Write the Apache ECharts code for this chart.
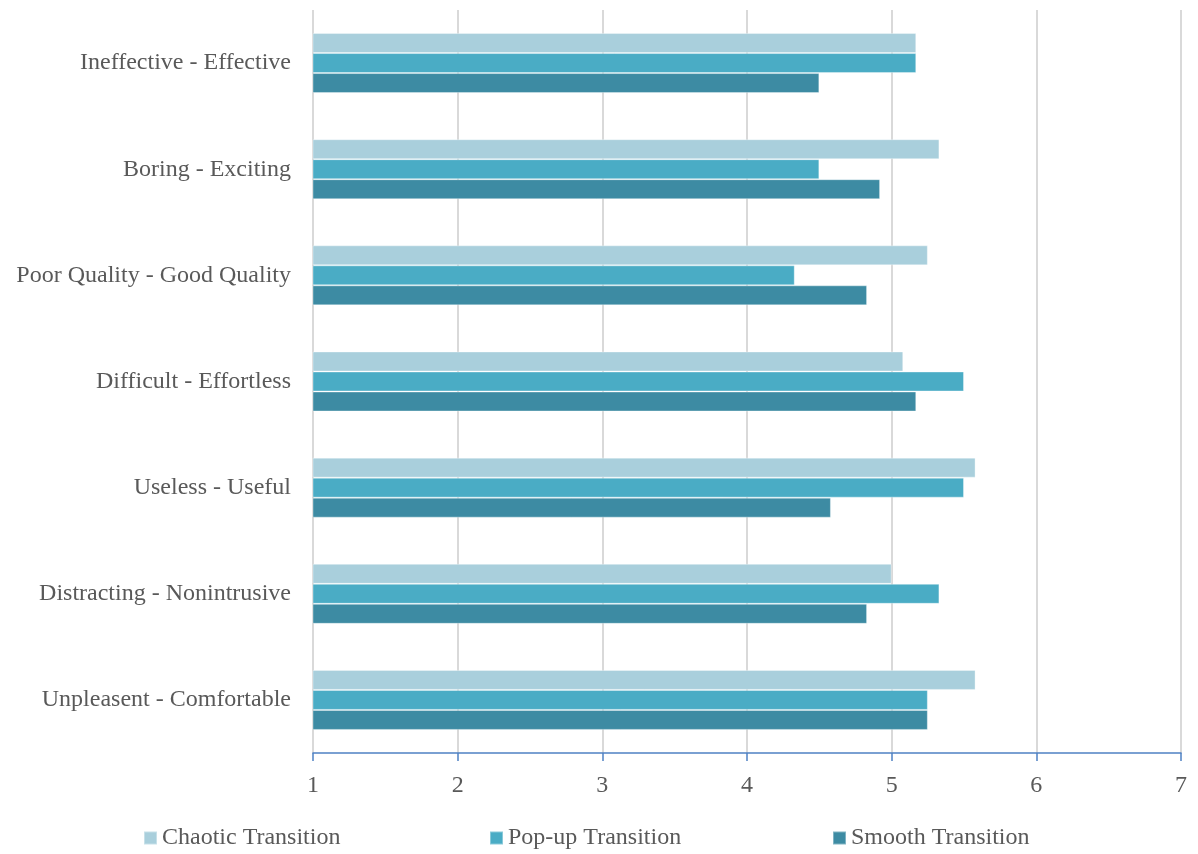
<!DOCTYPE html>
<html>
<head>
<meta charset="utf-8">
<script src="https://cdn.jsdelivr.net/npm/echarts@6/dist/echarts.min.js"></script>
<style>
  html, body { margin: 0; padding: 0; background: #fff; }
  #chart { width: 1198px; height: 854px; }
</style>
</head>
<body>
<div id="chart"></div>
<script>
// Semantic differential scale items (top to bottom)
const categories = [
  'Ineffective - Effective',
  'Boring - Exciting',
  'Poor Quality - Good Quality',
  'Difficult - Effortless',
  'Useless - Useful',
  'Distracting - Nonintrusive',
  'Unpleasent - Comfortable'
];

const seriesNames = ['Chaotic Transition', 'Pop-up Transition', 'Smooth Transition'];

// Mean ratings per transition type
const chaoticValues = [5.17, 5.33, 5.25, 5.08, 5.58, 5.00, 5.58];
const popupValues   = [5.17, 4.50, 4.33, 5.50, 5.50, 5.33, 5.25];
const smoothValues  = [4.50, 4.92, 4.83, 5.17, 4.58, 4.83, 5.25];

const xTicks = [1, 2, 3, 4, 5, 6, 7];

const colors = ['#A9CFDC', '#4AACC5', '#3D8BA3'];
const textColor = '#595959';
const fontFamily = '"Liberation Serif", "DejaVu Serif", serif';
const fontSize = 24;

// Left edge of each legend entry along the bottom row
const legendLefts = [143, 489, 832];

const chart = echarts.init(document.getElementById('chart'));

const seriesData = [chaoticValues, popupValues, smoothValues];

chart.setOption({
  animation: false,
  color: colors,
  textStyle: { fontFamily: fontFamily, color: textColor },
  grid: { left: 313, right: 17, top: 10, bottom: 101, containLabel: false },
  xAxis: {
    type: 'value',
    min: xTicks[0],
    max: xTicks[xTicks.length - 1],
    interval: 1,
    axisLine: { show: true, lineStyle: { color: '#4F81C4', width: 1.5 } },
    axisTick: { show: true, length: 8, lineStyle: { color: '#4F81C4', width: 1.5 } },
    axisLabel: { color: textColor, fontSize: fontSize, fontFamily: fontFamily, margin: 21 },
    splitLine: { show: true, lineStyle: { color: '#D9D9D9', width: 2 } }
  },
  yAxis: {
    type: 'category',
    data: categories,
    inverse: true,
    axisLine: { show: false },
    axisTick: { show: false },
    axisLabel: {
      color: textColor, fontSize: fontSize, fontFamily: fontFamily, margin: 22,
      padding: [4, 0, 0, 0]
    }
  },
  legend: seriesNames.map((name, i) => ({
    top: 826,
    left: legendLefts[i],
    padding: 0,
    itemWidth: 13,
    itemHeight: 13,
    icon: 'rect',
    textStyle: { color: textColor, fontSize: fontSize, fontFamily: fontFamily },
    data: [name]
  })),
  series: seriesNames.map((name, i) => ({
    name: name,
    type: 'bar',
    data: seriesData[i],
    barWidth: 20,
    barGap: '0%',
    itemStyle: { color: colors[i], borderColor: 'rgba(255,255,255,0.35)', borderWidth: 1 }
  }))
});
</script>
</body>
</html>
